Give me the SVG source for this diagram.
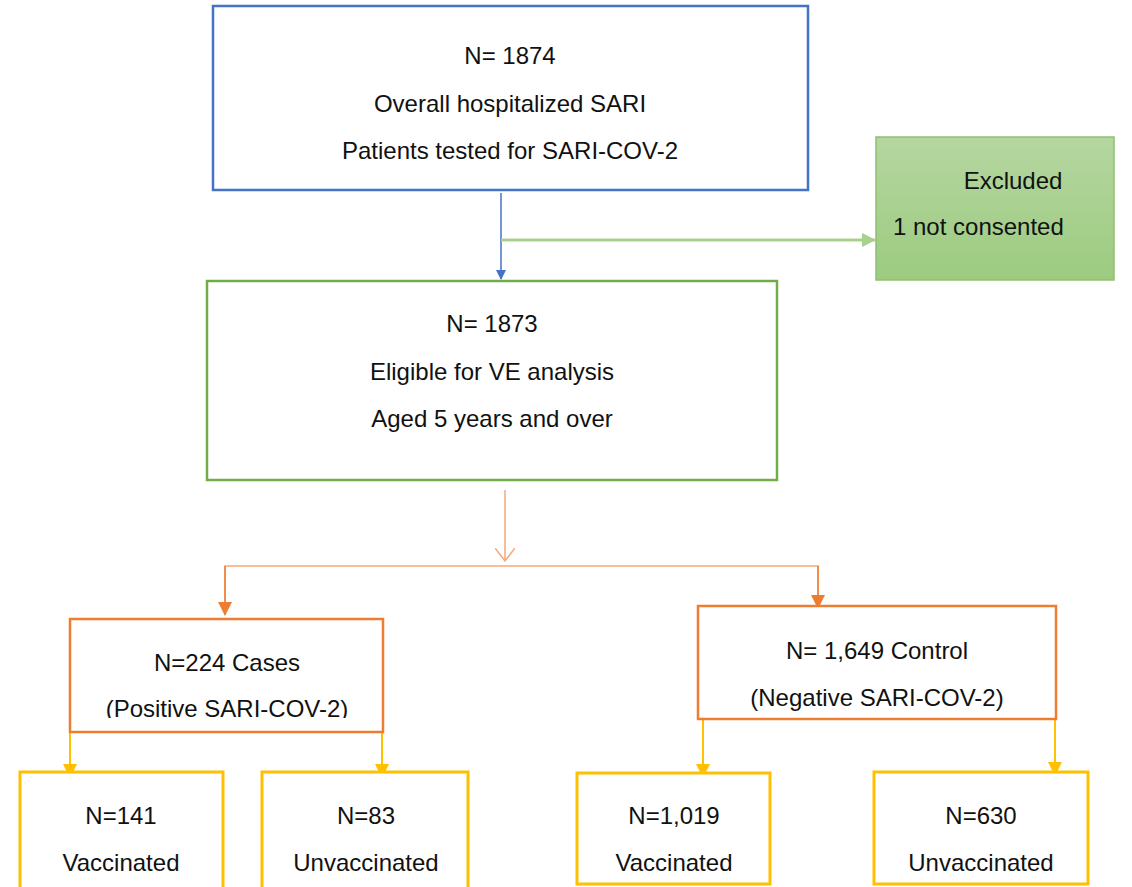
<svg xmlns="http://www.w3.org/2000/svg" width="1132" height="887" viewBox="0 0 1132 887">
<style>
text{font-family:"Liberation Sans",Arial,sans-serif;font-size:24px;fill:#111;text-anchor:middle}
.box{fill:#fff}
.blue{stroke:#4472c4;stroke-width:2.5}
.green{stroke:#70ad47;stroke-width:2.5}
.orange{stroke:#ed7d31;stroke-width:2.5}
.yellow{stroke:#ffc000;stroke-width:3}
.c{fill:none}
</style>
<defs>
<linearGradient id="gg" x1="0" y1="0" x2="0" y2="1">
<stop offset="0" stop-color="#b5d6a0"/>
<stop offset="1" stop-color="#9ccb80"/>
</linearGradient>
<marker id="ab" markerWidth="10" markerHeight="10" refX="9" refY="5" orient="auto" markerUnits="userSpaceOnUse"><path d="M0,0 L10,5 L0,10 z" fill="#4472c4"/></marker>
<marker id="ag" markerWidth="14" markerHeight="14" refX="13" refY="7" orient="auto" markerUnits="userSpaceOnUse"><path d="M0,0 L14,7 L0,14 z" fill="#a9d18e"/></marker>
<marker id="ao" markerWidth="14" markerHeight="14" refX="13" refY="7" orient="auto" markerUnits="userSpaceOnUse"><path d="M0,0 L14,7 L0,14 z" fill="#ed7d31"/></marker>
<marker id="aov" markerWidth="14" markerHeight="20" refX="13" refY="10" orient="auto" markerUnits="userSpaceOnUse"><path d="M0,0 L13,10 L0,20" fill="none" stroke="#f4a97a" stroke-width="1.5"/></marker>
<marker id="ay" markerWidth="14" markerHeight="14" refX="13" refY="7" orient="auto" markerUnits="userSpaceOnUse"><path d="M0,0 L14,7 L0,14 z" fill="#ffc000"/></marker>
<clipPath id="clipCases"><rect x="70" y="619" width="313" height="99"/></clipPath>
<clipPath id="clipControl"><rect x="698" y="606" width="358" height="105"/></clipPath>
</defs>

<g id="connectors" class="c">
<line x1="501" y1="193" x2="501" y2="279" stroke="#4472c4" stroke-width="1.5" marker-end="url(#ab)"/>
<line x1="501" y1="240" x2="875" y2="240" stroke="#a9d18e" stroke-width="3" marker-end="url(#ag)"/>
<line x1="505" y1="490" x2="505" y2="561" stroke="#f4a97a" stroke-width="1.5" marker-end="url(#aov)"/>
<polyline points="225,614 225,566 818,566 818,607" stroke="#f4a97a" stroke-width="1.5" fill="none"/>
<line x1="225" y1="566" x2="225" y2="615" stroke="#ed7d31" stroke-width="1.5" marker-end="url(#ao)"/>
<line x1="818" y1="566" x2="818" y2="608" stroke="#ed7d31" stroke-width="1.5" marker-end="url(#ao)"/>
<line x1="70" y1="732" x2="70" y2="777" stroke="#ffc000" stroke-width="2" marker-end="url(#ay)"/>
<line x1="382" y1="732" x2="382" y2="777" stroke="#ffc000" stroke-width="2" marker-end="url(#ay)"/>
<line x1="703" y1="719" x2="703" y2="777" stroke="#ffc000" stroke-width="2" marker-end="url(#ay)"/>
<line x1="1055" y1="719" x2="1055" y2="775" stroke="#ffc000" stroke-width="2" marker-end="url(#ay)"/>
</g>

<g id="n-total">
<rect class="box blue" x="213" y="6" width="595" height="184"/>
<text x="510" y="64">N= 1874</text>
<text x="510" y="112">Overall hospitalized SARI</text>
<text x="510" y="159">Patients tested for SARI-COV-2</text>
</g>

<g id="n-excluded">
<rect x="876" y="137" width="238" height="143" fill="url(#gg)" stroke="#8fbf72" stroke-width="1.5"/>
<text x="1013" y="189">Excluded</text>
<text x="893" y="235" style="text-anchor:start">1 not consented</text>
</g>

<g id="n-eligible">
<rect class="box green" x="207" y="281" width="570" height="199"/>
<text x="492" y="332">N= 1873</text>
<text x="492" y="380">Eligible for VE analysis</text>
<text x="492" y="427">Aged 5 years and over</text>
</g>

<g id="n-cases">
<rect class="box orange" x="70" y="619" width="313" height="113"/>
<text x="227" y="671">N=224 Cases</text>
<text x="227" y="717" clip-path="url(#clipCases)">(Positive SARI-COV-2)</text>
</g>

<g id="n-control">
<rect class="box orange" x="698" y="606" width="358" height="113"/>
<text x="877" y="659">N= 1,649 Control</text>
<text x="877" y="706" clip-path="url(#clipControl)">(Negative SARI-COV-2)</text>
</g>

<g id="n-v1">
<rect class="box yellow" x="20" y="772" width="203" height="125"/>
<text x="121" y="824">N=141</text>
<text x="121" y="871">Vaccinated</text>
</g>

<g id="n-u1">
<rect class="box yellow" x="262" y="772" width="206" height="125"/>
<text x="366" y="824">N=83</text>
<text x="366" y="871">Unvaccinated</text>
</g>

<g id="n-v2">
<rect class="box yellow" x="577" y="773" width="193" height="111"/>
<text x="674" y="824">N=1,019</text>
<text x="674" y="871">Vaccinated</text>
</g>

<g id="n-u2">
<rect class="box yellow" x="874" y="772" width="214" height="112"/>
<text x="981" y="824">N=630</text>
<text x="981" y="871">Unvaccinated</text>
</g>
</svg>
